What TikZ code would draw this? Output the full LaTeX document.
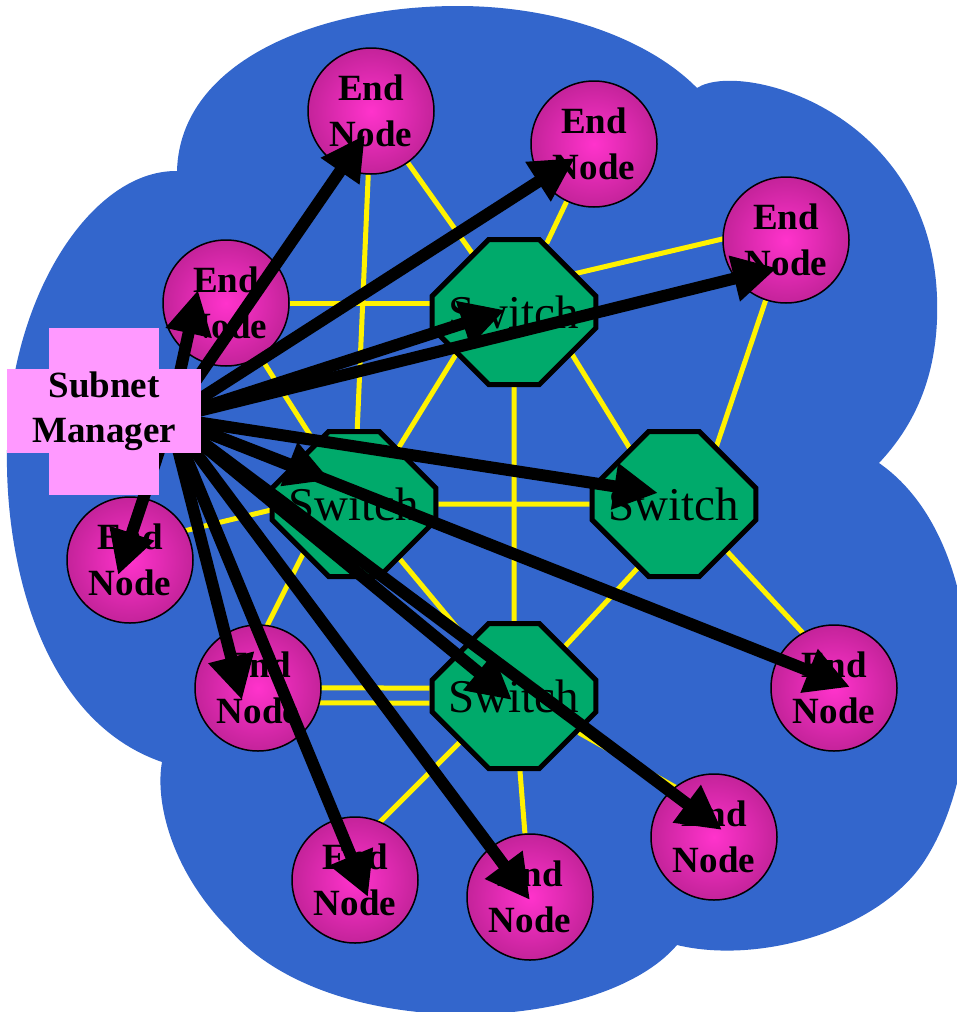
\documentclass[tikz,border=0pt]{standalone}
\usepackage{fontspec}
\setmainfont{Liberation Serif}
\usetikzlibrary{arrows.meta,calc,shapes.misc}

\definecolor{cloudblue}{HTML}{3366CC}
\definecolor{nodepink}{HTML}{FF33CC}
\definecolor{nodemagenta}{HTML}{C4239A}
\definecolor{switchgreen}{HTML}{00AA6B}
\definecolor{mgrpink}{HTML}{FF99FF}

\pgfdeclarelayer{back}
\pgfdeclarelayer{front}
\pgfdeclarelayer{top}
\pgfsetlayers{back,main,front,top}

\begin{document}
\begin{tikzpicture}[x=1pt,y=-1pt,
    endnode/.style={circle,draw=black,line width=1.5pt,minimum size=126pt,inner sep=0pt,
      inner color=nodepink,outer color=nodemagenta,align=center,
      font=\fontsize{37}{46}\selectfont\bfseries},
    switchnode/.style={chamfered rectangle,chamfered rectangle xsep=40pt,
      chamfered rectangle ysep=40pt,draw=black,line width=5pt,fill=switchgreen,
      minimum width=160pt,minimum height=145pt,inner sep=0pt,
      font=\fontsize{47}{47}\selectfont},
    managerbox/.style={fill=mgrpink,minimum width=194pt,minimum height=84pt,
      inner sep=0pt,align=center,font=\fontsize{37}{45}\selectfont\bfseries},
    link/.style={yellow,line width=5pt},
    probe/.style={line width=12pt,-{Triangle[length=44pt,width=44pt]}}]
    \useasboundingbox (0,0) rectangle (957,1012);
    \clip (0,0) rectangle (957,1012);

    % end nodes
    \node[endnode] (e1) at (371,111) {End\\Node};
    \node[endnode] (e2) at (594,144) {End\\Node};
    \node[endnode] (e3) at (786,240) {End\\Node};
    \node[endnode] (e4) at (226,303) {End\\Node};
    \node[endnode] (e5) at (130,560) {End\\Node};
    \node[endnode] (e6) at (258,688) {End\\Node};
    \node[endnode] (e7) at (355,880) {End\\Node};
    \node[endnode] (e8) at (530,897) {End\\Node};
    \node[endnode] (e9) at (714,837) {End\\Node};
    \node[endnode] (e10) at (834,688) {End\\Node};

    % switches
    \node[switchnode] (s1) at (514,312) {Switch};
    \node[switchnode] (s2) at (354,504) {Switch};
    \node[switchnode] (s3) at (674,504) {Switch};
    \node[switchnode] (s4) at (514,696) {Switch};

    \begin{pgfonlayer}{back}
    % the subnet cloud
    \fill[cloudblue] (177,171) .. controls (180,60) and (320,6) .. (458,6)
      .. controls (560,6) and (650,40) .. (697,88)
      .. controls (740,60) and (930,110) .. (937,297)
      .. controls (940,380) and (910,430) .. (879,463)
      .. controls (990,540) and (990,760) .. (925,860)
      .. controls (880,930) and (760,965) .. (677,945)
      .. controls (600,1035) and (330,1045) .. (230,930)
      .. controls (170,870) and (155,800) .. (162,762)
      .. controls (40,720) and (5,560) .. (7,450)
      .. controls (8,300) and (90,170) .. (177,171) -- cycle;

    % fabric links
    \foreach \a/\b in {e1/s1,e1/s2,e2/s1,e4/s2,s1/s4,s2/s3,s2/s4,s4/e8}
      \draw[link] (\a) -- (\b);
    \draw[link] (e4) -- (e4 -| s1);
    \draw[link] ($(e3)+(0,-16)$) -- ($(s1)+(0,-24)$);
    \draw[link] (e3) -- ($(s3)+(23,0)$);
    \draw[link] ($(s1)+(-32,0)$) -- ($(s2)+(10,0)$);
    \draw[link] ($(s1)+(32,0)$) -- ($(s3)+(-10,0)$);
    \draw[link] ($(e5)+(0,-16)$) -- ($(s2)+(0,-14)$);
    \draw[link] ($(s2)+(-26,0)$) -- ($(e6)+(-22,0)$);
    \draw[link] ($(s3)+(23,0)$) -- ($(s4)+(5,0)$);
    \draw[link] ($(s3)+(9,0)$) -- ($(e10)+(20,0)$);
    \draw[link] ($(s4)+(0,-8)$) -- ($(e7)+(0,-33)$);
    \draw[link] (s4) -- ($(e9)+(0,-28)$);
    \draw[link,double=cloudblue,double distance=10pt] ($(e6)+(0,7)$) -- (s4);
    \end{pgfonlayer}

    \begin{pgfonlayer}{top}
    \fill[mgrpink] (49,328) rectangle (159,495);
    \node[managerbox] (sm) at (104,411) {Subnet\\Manager};
    \end{pgfonlayer}

    \coordinate (hub) at (170,418);
    \begin{pgfonlayer}{front}
    \foreach \t/\dx/\dy in {e4/-28/-13, e1/-6/24, e2/-19/14, s1/-9/-2, e3/-9/28,
        s3/-16/-11, e10/16/-1, e9/8/-7, s4/-2/4, e8/0/3, e7/13/17, e6/-16/12,
        e5/-12/15, s2/-24/-24}
      \draw[probe] (hub) -- ($(\t)+(\dx,\dy)$);
    \end{pgfonlayer}
\end{tikzpicture}
\end{document}
